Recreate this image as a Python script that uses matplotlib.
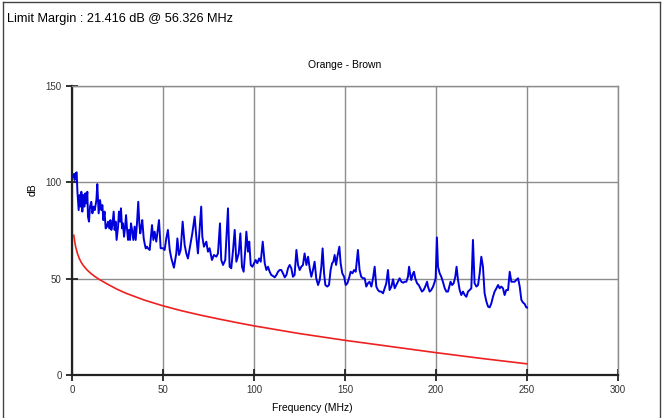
import matplotlib
matplotlib.use("Agg")
import matplotlib.pyplot as plt
from matplotlib.lines import Line2D

plt.rcParams['font.family'] = ['Liberation Sans', 'DejaVu Sans']

meas_freq = [0.55, 1.1, 1.47, 2.0, 2.56, 2.93, 3.66, 4.2, 4.76, 5.13, 5.68, 6.2, 6.78, 7.33, 7.88,
             8.42, 8.79, 9.34, 9.9, 10.6, 11.2, 11.9, 12.5, 13.4, 13.9, 14.65, 15.4, 16.1, 16.7,
             17.2, 17.9, 18.5, 19.2, 19.8, 20.5, 21.1, 21.6, 22.2, 22.9, 23.4, 24.0, 24.5, 25.3,
             25.8, 26.4, 26.9, 27.5, 28.0, 28.6, 29.1, 29.7, 30.2, 30.8, 31.3, 31.9, 32.4, 33.0,
             33.7, 34.4, 35.0, 35.7, 36.4, 37.0, 37.5, 38.1, 38.6, 39.4, 39.9, 40.5, 41.2, 41.8,
             42.7, 43.96, 44.7, 45.4, 46.3, 47.8, 48.7, 50.0, 50.9, 51.8, 52.7, 53.7, 54.6, 56.0,
             57.3, 57.9, 58.8, 59.7, 60.8, 61.9, 62.8, 63.7, 65.0, 66.1, 67.4, 68.3, 69.2, 70.1,
             71.0, 71.6, 72.5, 73.8, 74.7, 75.6, 76.9, 78.0, 79.3, 80.2, 81.3, 82.0, 83.0, 84.2,
             85.7, 86.6, 87.5, 88.5, 89.4, 90.3, 91.6, 92.5, 93.4, 94.3, 95.2, 95.8, 96.7, 97.4,
             98.2, 99.1, 100.0, 100.9, 101.8, 102.8, 103.7, 104.8, 105.9, 106.8, 107.7, 108.6,
             109.5, 110.4, 111.4, 112.3, 113.2, 114.1, 115.0, 115.9, 116.9, 117.8, 118.7, 119.6,
             120.5, 121.4, 122.3, 123.3, 124.2, 125.1, 126.0, 126.9, 127.8, 128.8, 129.7, 130.6,
             131.5, 132.4, 133.3, 134.2, 135.2, 136.1, 137.0, 137.7, 138.5, 139.2, 140.3, 141.2,
             142.1, 142.9, 143.6, 144.3, 145.1, 145.8, 146.9, 147.6, 148.5, 149.5, 150.4, 151.3,
             152.2, 153.1, 154.1, 155.0, 155.9, 157.1, 158.0, 158.9, 159.9, 160.8, 161.7, 162.6,
             163.5, 164.5, 165.4, 166.3, 167.2, 168.1, 169.0, 169.9, 170.9, 171.8, 172.7, 173.6,
             174.5, 175.5, 176.4, 177.3, 178.2, 179.1, 180.0, 181.0, 181.9, 182.8, 183.7, 184.6,
             185.2, 185.9, 186.4, 187.4, 187.9, 188.6, 189.6, 190.5, 191.4, 192.3, 193.2, 194.1,
             195.1, 195.6, 196.5, 197.4, 198.4, 199.3, 199.8, 200.5, 201.1, 202.0, 202.9, 203.8,
             204.8, 205.7, 206.6, 207.5, 208.0, 208.9, 209.7, 210.6, 211.3, 212.1, 213.0, 213.9,
             214.8, 215.8, 216.7, 217.6, 218.5, 219.4, 220.3, 221.2, 222.2, 223.1, 224.0, 224.9,
             225.8, 226.7, 227.7, 228.6, 229.5, 230.4, 231.3, 232.2, 233.2, 234.1, 235.0, 235.9,
             236.8, 237.7, 238.6, 239.6, 240.5, 241.4, 242.3, 243.2, 244.1, 245.1, 246.0, 246.9,
             247.8, 248.7, 249.6, 250.0]
meas_db = [102.9, 104.3, 101.2, 104.7, 105.2, 96.0, 85.6, 93.4, 87.4, 95.1, 84.8, 93.4, 87.4, 94.3, 89.1,
           95.1, 82.1, 79.6, 87.4, 89.9, 83.9, 87.4, 85.6, 90.8, 99.1, 83.9, 90.8, 85.6, 88.2,
           80.4, 84.8, 76.1, 77.0, 79.6, 76.1, 80.4, 75.3, 77.8, 84.8, 75.3, 79.6, 70.1, 77.0,
           84.8, 79.6, 86.5, 76.1, 78.7, 71.8, 76.1, 83.0, 76.1, 70.1, 75.3, 70.1, 78.7, 75.3,
           70.1, 77.0, 70.1, 78.7, 89.9, 78.7, 73.5, 77.0, 80.4, 70.9, 68.3, 65.7, 66.6, 65.7,
           64.9, 77.8, 70.1, 74.4, 69.2, 80.4, 65.8, 65.8, 64.9, 70.9, 75.3, 64.9, 60.5, 55.7,
           63.1, 70.9, 62.3, 64.9, 79.6, 67.5, 63.1, 60.5, 67.5, 73.5, 82.2, 71.8, 63.1, 75.3,
           87.4, 71.8, 66.6, 69.2, 64.0, 65.8, 59.7, 62.3, 61.4, 63.1, 78.7, 59.7, 57.1, 59.7,
           86.5, 56.2, 55.4, 64.9, 75.3, 58.8, 63.1, 73.5, 56.2, 53.6, 64.9, 74.4, 64.0, 69.2,
           57.1, 56.2, 58.0, 59.7, 58.0, 60.5, 58.8, 69.2, 58.0, 54.5, 56.2, 53.6,
           51.9, 51.4, 50.7, 51.9, 53.6, 54.5, 54.5, 52.8, 50.7, 51.9, 55.4, 57.1,
           55.4, 51.0, 51.9, 64.9, 57.1, 54.5, 56.2, 57.1, 63.1, 57.1, 61.4, 55.4,
           51.0, 54.5, 58.8, 50.2, 46.7, 49.3, 56.2, 65.7, 52.8, 46.7, 45.9, 46.7,
           54.5, 58.0, 58.8, 62.3, 57.1, 61.4, 66.6, 58.0, 52.8, 51.0, 46.7, 47.6,
           50.2, 53.6, 52.8, 54.5, 53.6, 64.9, 54.5, 51.0, 50.2, 50.2, 45.9, 47.6,
           48.4, 45.9, 50.2, 56.2, 45.9, 44.1, 43.3, 43.3, 42.4, 45.0, 47.6, 54.5,
           44.1, 45.9, 49.7, 45.0, 46.7, 48.4, 50.2, 48.4, 47.9, 48.4, 48.4, 51.0,
           56.2, 51.9, 49.3, 52.8, 53.6, 50.2, 47.6, 46.7, 45.0, 43.3, 44.1, 45.9,
           48.4, 45.9, 43.3, 44.1, 45.9, 48.4, 50.2, 71.4, 56.2, 52.8, 51.0, 48.4,
           45.0, 43.3, 43.3, 46.7, 48.4, 46.7, 47.6, 51.0, 56.2, 49.3, 44.1, 41.5,
           43.3, 41.5, 40.6, 43.3, 44.1, 45.0, 70.1, 47.6, 45.9, 46.7, 52.8, 61.4,
           56.2, 42.4, 38.1, 35.5, 35.1, 37.2, 40.6, 43.3, 45.0, 46.7, 45.0, 45.9,
           45.0, 41.5, 44.1, 44.1, 53.6, 48.4, 48.4, 48.4, 49.3, 50.2, 45.9, 39.0,
           37.6, 36.9, 35.1, 35.0]

# limit line (red)
limit_freq = [1, 1.5, 2, 3, 4, 5, 6, 8, 10, 12, 15, 20, 25, 30, 40, 50, 60, 70, 80, 90,
              100, 125, 150, 175, 200, 225, 250]
limit_db = [72.5, 69.2, 66.6, 63.0, 60.5, 58.6, 57.1, 54.8, 53.0, 51.5, 49.6, 46.9, 44.4,
            42.3, 38.8, 35.9, 33.4, 31.2, 29.2, 27.3, 25.5, 21.5, 18.0, 14.8, 11.6, 8.6, 5.8]

xticks = [0, 50, 100, 150, 200, 250, 300]
yticks = [0, 50, 100, 150]

fig = plt.figure(figsize=(6.65, 4.18), dpi=100)
ax = fig.add_axes([72 / 665, 1 - 375 / 418, 546 / 665, 289 / 418])

ax.plot(limit_freq, limit_db, color='#ee2020', lw=1.2, zorder=3)
ax.plot(meas_freq, meas_db, color='#0000dd', lw=1.4, zorder=4)

ax.set_xlim(0, 300)
ax.set_ylim(0, 150)
ax.set_xticks(xticks)
ax.set_yticks(yticks)
ax.grid(True, color='#8c8c8c', lw=1.0)
ax.set_axisbelow(True)
for s in ['top', 'right']:
    ax.spines[s].set_color('#8c8c8c')
    ax.spines[s].set_linewidth(1.0)
for s in ['left', 'bottom']:
    ax.spines[s].set_color('#222222')
    ax.spines[s].set_linewidth(1.6)
ax.tick_params(direction='inout', length=9, width=1.3, color='#222222',
               labelsize=7, labelcolor='#333333', pad=3)

ax.set_title('Orange - Brown', fontsize=7.5, pad=13)
fig.text(312 / 665, 1 - 408 / 418, 'Frequency (MHz)', fontsize=7.5, ha='center', va='center')
fig.text(33 / 665, 1 - 190 / 418, 'dB', fontsize=7.5, rotation=90, ha='center', va='center')

fig.text(7 / 665, 1 - 19 / 418, 'Limit Margin : 21.416 dB @ 56.326 MHz', fontsize=9.2,
         ha='left', va='center')

# outer frame
for xs, ys in [([3 / 665, 3 / 665], [0, 1 - 2 / 418]),
               ([3 / 665, 660 / 665], [1 - 2 / 418, 1 - 2 / 418]),
               ([660 / 665, 660 / 665], [0, 1 - 2 / 418])]:
    fig.add_artist(Line2D(xs, ys, color='#444444', lw=1.0))

fig.savefig('out.png', dpi=100)
